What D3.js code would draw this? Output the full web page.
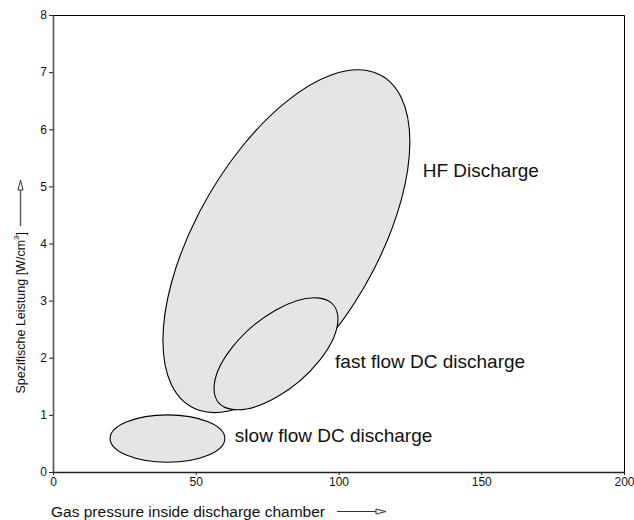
<!DOCTYPE html>
<html>
  <head>
    <meta charset="utf-8">
    <script src="https://cdn.jsdelivr.net/npm/d3@7"></script>
    <style>
      body { margin: 0; background: #fff; }
      text { font-family: "Liberation Sans", Arial, sans-serif; }
    </style>
  </head>
  <body>
    <svg width="634" height="520" id="mainsvg"></svg>
    <script>
        // operating regions (data units)
        const regionNames = ['HF Discharge', 'fast flow DC discharge', 'slow flow DC discharge'];
        const regionXMin = [38.5, 56.4, 20.0];
        const regionXMax = [125.0, 99.8, 60.2];
        const regionYMin = [1.04, 1.09, 0.17];
        const regionYMax = [7.04, 3.05, 1.00];
        const regionYAtRight = [5.78, 2.68, 0.585]; // y where each outline reaches its rightmost x
        const labelX = [129.5, 98.8, 63.7];
        const labelY = [5.17, 1.82, 0.525];

        const xTicks = [0, 50, 100, 150, 200];
        const yTicks = [0, 1, 2, 3, 4, 5, 6, 7, 8];

        const svg = d3.select('#mainsvg');
        const x = d3.scaleLinear().domain([0, 200]).range([53, 624]);
        const y = d3.scaleLinear().domain([0, 8]).range([472, 15]);

        // frame top / right
        svg.append('path')
            .attr('d', `M${x(0)},${y(8) + 0.5}H${x(200) + 0.5}V${y(0)}`)
            .attr('fill', 'none').attr('stroke', '#000').attr('stroke-width', 1);

        // regions: unit circle pushed through an affine map built from the scales
        const regions = regionNames.map((name, i) => {
            const cx = (regionXMin[i] + regionXMax[i]) / 2;
            const cy = (regionYMin[i] + regionYMax[i]) / 2;
            const w = x(regionXMax[i]) - x(cx);
            const h = y(regionYMin[i]) - y(cy);
            const dy = y(regionYAtRight[i]) - y(cy);
            const d = h * Math.sqrt(1 - (dy / h) * (dy / h));
            return {name, px: x(cx), py: y(cy), w, dy, d};
        });

        svg.append('g').selectAll('circle')
            .data(regions)
            .enter().append('circle')
            .attr('r', 1)
            .attr('transform', r => `matrix(${r.w},${r.dy},0,${r.d},${r.px},${r.py})`)
            .attr('fill', '#e5e5e5')
            .attr('stroke', '#000')
            .attr('stroke-width', 1.1)
            .attr('vector-effect', 'non-scaling-stroke');

        svg.append('g').selectAll('text')
            .data(regionNames)
            .enter().append('text')
            .attr('x', (d, i) => x(labelX[i]))
            .attr('y', (d, i) => y(labelY[i]))
            .attr('font-size', 19)
            .attr('fill', '#111')
            .text(d => d);

        // axes
        const xAxis = d3.axisBottom(x).tickValues(xTicks).tickSize(3).tickSizeOuter(0).tickPadding(2);
        const yAxis = d3.axisLeft(y).tickValues(yTicks).tickSize(4).tickSizeOuter(0).tickPadding(2);

        const xg = svg.append('g').attr('transform', `translate(0, ${y(0)})`).call(xAxis);
        const yg = svg.append('g').attr('transform', `translate(${x(0)}, 0)`).call(yAxis);
        xg.select('.domain').attr('stroke', '#222').attr('stroke-width', 1.6);
        yg.select('.domain').attr('stroke', '#555').attr('stroke-width', 1.6);
        svg.selectAll('.tick line').attr('stroke', '#222');
        svg.selectAll('.tick text').attr('font-size', 12).attr('fill', '#111')
            .style('font-family', '"Liberation Sans", Arial, sans-serif');

        // axis titles with arrows
        svg.append('text')
            .attr('x', 51).attr('y', 516.5)
            .attr('font-size', 15.5).attr('fill', '#111')
            .text('Gas pressure inside discharge chamber');
        svg.append('line')
            .attr('x1', 337).attr('x2', 376).attr('y1', 511.5).attr('y2', 511.5)
            .attr('stroke', '#333').attr('stroke-width', 1.2);
        svg.append('path')
            .attr('d', 'M376,509L386,511.5L376,514Z')
            .attr('fill', '#fff').attr('stroke', '#333').attr('stroke-width', 1);

        const yl = svg.append('text')
            .attr('transform', 'translate(25, 232) rotate(-90)')
            .attr('text-anchor', 'end')
            .attr('font-size', 12.5).attr('fill', '#111');
        yl.append('tspan').text('Spezifische Leistung [W/cm');
        yl.append('tspan').attr('font-size', 8).attr('dy', -6).text('3');
        yl.append('tspan').attr('dy', 6).text(']');

        svg.append('line')
            .attr('x1', 20.5).attr('x2', 20.5).attr('y1', 226).attr('y2', 190)
            .attr('stroke', '#555').attr('stroke-width', 1.4);
        svg.append('path')
            .attr('d', 'M18,190L20.5,180L23,190Z')
            .attr('fill', '#fff').attr('stroke', '#333').attr('stroke-width', 1);
    </script>
  </body>
</html>
